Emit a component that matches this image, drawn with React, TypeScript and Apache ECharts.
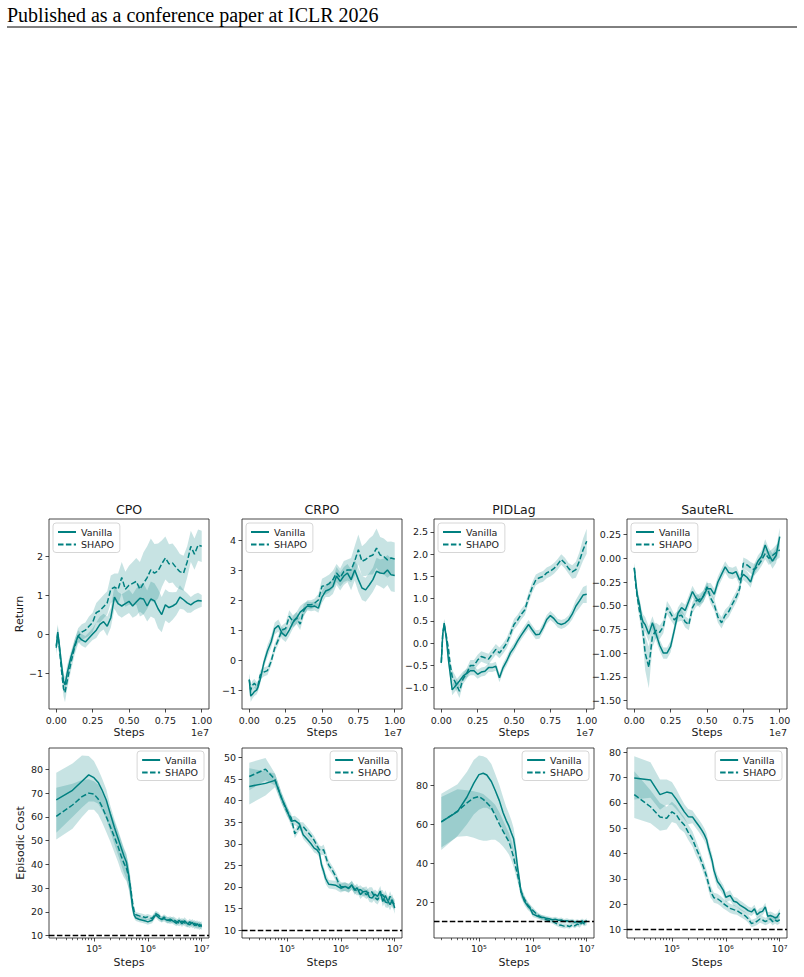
import React, { useEffect, useRef } from "react";
import * as echarts from "echarts";

const FONT = "DejaVu Sans";
const TEAL = "#008080";
const BAND = "rgba(0,128,128,0.22)";
const INK = "#1a1a1a";

// ---------- layout ----------
const GRID_LEFTS = [49, 242, 434, 627];
const GRID_W = 160;
const GRID_H = 190;
const ROW_TOPS = [519, 748];

// ---------- text ----------
const HEADER = "Published as a conference paper at ICLR 2026";
const TITLES = ["CPO", "CRPO", "PIDLag", "SauteRL"];
const SERIES_NAMES = ["Vanilla", "SHAPO"];

// ---------- axes ----------
const TOP_X_RANGE = [-5e5, 1.05e7];
const TOP_X_TICKS = [0, 2.5e6, 5e6, 7.5e6, 1e7];
const LOG_X_RANGE = [14660, 13650000];
const LOG_X_MAJOR = [1e5, 1e6, 1e7];
const LOG_X_MINOR = [2e4, 3e4, 4e4, 5e4, 6e4, 7e4, 8e4, 9e4, 2e5, 3e5, 4e5, 5e5, 6e5, 7e5, 8e5, 9e5, 2e6, 3e6, 4e6, 5e6, 6e6, 7e6, 8e6, 9e6];

const RET_Y_RANGES = [[-1.92, 2.95], [-1.63, 4.7], [-1.48, 2.79], [-1.59, 0.415]];
const RET_Y_TICKS = [
  [-1, 0, 1, 2],
  [-1, 0, 1, 2, 3, 4],
  [-1, -0.5, 0, 0.5, 1, 1.5, 2, 2.5],
  [-1.5, -1.25, -1, -0.75, -0.5, -0.25, 0, 0.25],
];
const RET_Y_DECIMALS = [0, 0, 1, 2];
const COST_Y_RANGES = [[9.0, 89], [8.15, 52.2], [1.5, 99.2], [6.7, 81.7]];
const COST_Y_TICKS = [
  [10, 20, 30, 40, 50, 60, 70, 80],
  [10, 15, 20, 25, 30, 35, 40, 45, 50],
  [20, 40, 60, 80],
  [10, 20, 30, 40, 50, 60, 70, 80],
];
const COST_LIMIT = 10;

// ---------- data: return (top row), mean and spread ----------
const TOP_STEPS = [0, 1e5, 2e5, 3.5e5, 5e5, 6e5, 7.5e5, 1e6, 1.25e6, 1.5e6, 1.75e6, 2e6, 2.25e6, 2.5e6, 2.75e6, 3e6, 3.25e6, 3.5e6, 3.75e6, 4e6, 4.25e6, 4.5e6, 4.75e6, 5e6, 5.25e6, 5.5e6, 5.75e6, 6e6, 6.25e6, 6.5e6, 6.75e6, 7e6, 7.25e6, 7.5e6, 7.75e6, 8e6, 8.25e6, 8.5e6, 8.75e6, 9e6, 9.25e6, 9.5e6, 9.75e6, 1e7];

const CPO_RET_V = [-0.35, 0.05, -0.25, -0.75, -1.2, -1.3, -1.0, -0.6, -0.3, -0.05, -0.15, -0.2, -0.1, 0.0, 0.1, 0.25, 0.32, 0.2, 0.42, 0.95, 0.78, 0.72, 0.78, 0.84, 0.72, 0.82, 0.92, 0.9, 0.72, 0.9, 0.85, 0.65, 0.5, 0.75, 0.68, 0.72, 0.78, 0.95, 0.88, 0.8, 0.75, 0.82, 0.86, 0.85];
const CPO_RET_V_SD = [0.2, 0.2, 0.2, 0.2, 0.2, 0.2, 0.2, 0.15, 0.15, 0.15, 0.15, 0.15, 0.15, 0.15, 0.2, 0.2, 0.2, 0.25, 0.25, 0.3, 0.3, 0.3, 0.3, 0.3, 0.3, 0.35, 0.35, 0.4, 0.4, 0.45, 0.45, 0.5, 0.45, 0.4, 0.4, 0.35, 0.3, 0.3, 0.25, 0.25, 0.2, 0.2, 0.2, 0.15];
const CPO_RET_S = [-0.3, 0.0, -0.3, -0.9, -1.4, -1.5, -1.2, -0.75, -0.35, -0.05, 0.05, 0.1, 0.2, 0.3, 0.55, 0.6, 0.7, 0.8, 1.15, 1.2, 1.15, 1.45, 1.15, 1.25, 1.3, 1.35, 1.15, 1.3, 1.45, 1.65, 1.56, 1.62, 1.8, 1.95, 1.8, 1.82, 1.7, 1.6, 1.56, 1.85, 2.25, 2.05, 2.28, 2.25];
const CPO_RET_S_SD = [0.2, 0.2, 0.2, 0.2, 0.2, 0.25, 0.2, 0.2, 0.2, 0.2, 0.2, 0.2, 0.25, 0.25, 0.25, 0.3, 0.3, 0.3, 0.35, 0.35, 0.4, 0.4, 0.45, 0.5, 0.55, 0.6, 0.7, 0.8, 0.8, 0.8, 0.75, 0.7, 0.6, 0.55, 0.5, 0.5, 0.5, 0.45, 0.45, 0.4, 0.4, 0.4, 0.4, 0.4];

const CRPO_RET_V = [-0.65, -1.2, -1.15, -1.05, -1.0, -0.9, -0.65, -0.1, 0.3, 0.6, 1.05, 1.15, 0.9, 0.8, 1.0, 1.25, 1.4, 1.6, 1.7, 1.8, 1.78, 1.8, 1.73, 2.1, 2.3, 2.35, 2.45, 2.8, 2.62, 2.8, 2.9, 2.68, 3.0, 2.68, 2.4, 2.34, 2.5, 2.68, 2.96, 2.9, 2.88, 3.0, 2.84, 2.82];
const CRPO_RET_V_SD = [0.2, 0.2, 0.15, 0.15, 0.15, 0.15, 0.15, 0.15, 0.2, 0.2, 0.2, 0.2, 0.2, 0.2, 0.2, 0.2, 0.2, 0.2, 0.2, 0.15, 0.15, 0.15, 0.15, 0.2, 0.2, 0.25, 0.25, 0.3, 0.3, 0.3, 0.3, 0.35, 0.35, 0.4, 0.4, 0.4, 0.4, 0.4, 0.45, 0.45, 0.5, 0.5, 0.55, 0.55];
const CRPO_RET_S = [-0.65, -1.0, -0.85, -0.77, -0.88, -0.85, -0.5, -0.4, -0.35, -0.05, 0.4, 0.68, 1.0, 1.05, 1.46, 1.29, 1.4, 1.2, 1.65, 1.84, 1.84, 1.9, 2.0, 2.46, 2.48, 2.55, 2.68, 2.9, 2.75, 2.95, 3.0, 3.0, 3.3, 3.68, 3.29, 3.35, 3.45, 3.5, 3.73, 3.5, 3.45, 3.34, 3.4, 3.37];
const CRPO_RET_S_SD = [0.2, 0.15, 0.15, 0.15, 0.15, 0.15, 0.15, 0.15, 0.15, 0.15, 0.15, 0.15, 0.15, 0.2, 0.2, 0.2, 0.2, 0.2, 0.2, 0.15, 0.15, 0.15, 0.2, 0.25, 0.3, 0.3, 0.3, 0.3, 0.3, 0.35, 0.35, 0.4, 0.5, 0.5, 0.5, 0.55, 0.6, 0.65, 0.65, 0.6, 0.6, 0.6, 0.55, 0.55];

const PID_RET_V = [-0.44, 0.2, 0.45, 0.1, -0.4, -0.65, -1.05, -0.95, -0.85, -0.74, -0.68, -0.62, -0.62, -0.7, -0.65, -0.63, -0.55, -0.55, -0.52, -0.78, -0.55, -0.4, -0.22, -0.1, 0.05, 0.18, 0.3, 0.42, 0.3, 0.19, 0.2, 0.35, 0.53, 0.62, 0.55, 0.45, 0.42, 0.45, 0.52, 0.65, 0.83, 0.95, 1.08, 1.1];
const PID_RET_V_SD = [0.1, 0.1, 0.1, 0.12, 0.12, 0.12, 0.12, 0.12, 0.12, 0.1, 0.1, 0.1, 0.1, 0.1, 0.1, 0.1, 0.1, 0.1, 0.1, 0.1, 0.1, 0.1, 0.1, 0.1, 0.1, 0.1, 0.1, 0.1, 0.1, 0.1, 0.1, 0.1, 0.1, 0.1, 0.1, 0.1, 0.1, 0.1, 0.1, 0.12, 0.14, 0.16, 0.18, 0.2];
const PID_RET_S = [-0.44, 0.2, 0.42, 0.15, -0.14, -0.45, -0.75, -0.9, -1.08, -0.8, -0.68, -0.5, -0.5, -0.38, -0.3, -0.33, -0.36, -0.25, -0.14, -0.22, -0.12, 0.0, 0.2, 0.42, 0.52, 0.65, 0.75, 1.02, 1.25, 1.42, 1.47, 1.5, 1.58, 1.62, 1.68, 1.77, 1.88, 1.8, 1.68, 1.6, 1.65, 1.85, 2.1, 2.29];
const PID_RET_S_SD = [0.1, 0.1, 0.1, 0.12, 0.12, 0.12, 0.15, 0.15, 0.15, 0.12, 0.12, 0.12, 0.12, 0.12, 0.12, 0.12, 0.12, 0.12, 0.12, 0.12, 0.12, 0.12, 0.12, 0.12, 0.12, 0.12, 0.12, 0.12, 0.12, 0.12, 0.12, 0.12, 0.12, 0.12, 0.12, 0.12, 0.12, 0.12, 0.12, 0.15, 0.18, 0.2, 0.25, 0.28];

const SAUTE_RET_V = [-0.1, -0.24, -0.38, -0.48, -0.62, -0.67, -0.7, -0.8, -0.68, -0.8, -0.92, -1.0, -1.0, -0.93, -0.76, -0.58, -0.52, -0.55, -0.45, -0.35, -0.42, -0.46, -0.4, -0.32, -0.32, -0.38, -0.25, -0.17, -0.09, -0.15, -0.16, -0.14, -0.23, -0.17, -0.2, -0.25, -0.12, -0.03, 0.02, 0.14, 0.04, -0.03, 0.03, 0.23];
const SAUTE_RET_V_SD = [0.05, 0.06, 0.06, 0.07, 0.08, 0.08, 0.08, 0.08, 0.07, 0.07, 0.06, 0.06, 0.06, 0.06, 0.06, 0.06, 0.06, 0.06, 0.06, 0.06, 0.06, 0.06, 0.06, 0.06, 0.06, 0.06, 0.06, 0.06, 0.06, 0.06, 0.06, 0.06, 0.06, 0.06, 0.06, 0.06, 0.06, 0.06, 0.06, 0.06, 0.07, 0.08, 0.08, 0.09];
const SAUTE_RET_S = [-0.1, -0.28, -0.4, -0.55, -0.68, -0.78, -1.0, -1.15, -0.82, -0.76, -0.78, -0.72, -0.52, -0.58, -0.65, -0.61, -0.6, -0.67, -0.7, -0.52, -0.45, -0.43, -0.4, -0.3, -0.42, -0.49, -0.62, -0.68, -0.6, -0.56, -0.48, -0.41, -0.32, -0.05, -0.07, -0.1, -0.12, -0.08, -0.02, 0.05, 0.0, 0.03, 0.06, 0.09];
const SAUTE_RET_S_SD = [0.05, 0.06, 0.07, 0.08, 0.1, 0.12, 0.18, 0.22, 0.12, 0.08, 0.07, 0.07, 0.07, 0.07, 0.06, 0.06, 0.06, 0.06, 0.06, 0.06, 0.06, 0.06, 0.06, 0.06, 0.06, 0.06, 0.06, 0.06, 0.06, 0.06, 0.06, 0.06, 0.06, 0.06, 0.06, 0.06, 0.06, 0.06, 0.06, 0.06, 0.07, 0.07, 0.08, 0.08];

// ---------- data: episodic cost (bottom row) ----------
const BOTTOM_STEPS = [2e4, 4e4, 6e4, 8e4, 1e5, 1.2e5, 1.4e5, 1.7e5, 2e5, 2.4e5, 2.8e5, 3.2e5, 3.6e5, 4e5, 4.4e5, 4.8e5, 5.2e5, 5.6e5, 6e5, 7e5, 8e5, 9e5, 1e6, 1.2e6, 1.4e6, 1.6e6, 1.8e6, 2e6, 2.3e6, 2.6e6, 3e6, 3.4e6, 3.8e6, 4.3e6, 4.8e6, 5.4e6, 6e6, 6.7e6, 7.4e6, 8.2e6, 9e6, 1e7];

// CPO: mean with explicit lower / upper band edges
const CPO_COST_V = [67.2, 71.2, 75, 77.7, 76.5, 74.5, 71.5, 67, 61.5, 55.5, 51, 47, 43.5, 41, 35.7, 29, 22, 18.5, 17.4, 16.8, 16.5, 16.2, 15.8, 16.5, 18.8, 17.5, 16.8, 17.2, 16.4, 16.9, 16.0, 15.2, 16.5, 15.0, 16.3, 15.1, 14.6, 15.6, 14.2, 15.0, 13.9, 14.6];
const CPO_COST_V_LO = [53.3, 60, 64, 66.5, 66.5, 65.5, 63, 59, 54, 48.5, 44, 40, 36.5, 34, 30, 24.5, 19.5, 17.2, 16.2, 15.6, 15.3, 15.0, 14.6, 15.2, 17.5, 16.2, 15.5, 15.9, 15.1, 15.6, 14.7, 13.9, 15.2, 13.6, 14.9, 13.7, 13.2, 14.2, 12.7, 13.5, 12.4, 13.1];
const CPO_COST_V_HI = [78.6, 82.5, 85.8, 85.6, 83.5, 80, 76.5, 71.5, 65, 59, 54.5, 50.5, 47, 44.5, 39.5, 32, 24, 19.8, 18.6, 18.0, 17.7, 17.4, 17.0, 17.8, 20.1, 18.8, 18.1, 18.5, 17.7, 18.2, 17.3, 16.5, 17.8, 16.4, 17.7, 16.5, 16.0, 17.0, 15.7, 16.5, 15.4, 16.1];
const CPO_COST_S = [60.2, 65, 68.5, 70, 69.6, 67.5, 64.5, 60, 56, 51.5, 47.5, 43.5, 40.5, 38.5, 35, 30, 24, 20, 18.8, 18.3, 18.0, 17.6, 17.9, 17.2, 19.3, 18.5, 16.9, 17.8, 16.6, 16.2, 16.8, 15.9, 15.3, 16.1, 15.4, 14.7, 15.8, 14.5, 15.2, 14.0, 14.8, 13.8];
const CPO_COST_S_LO = [50.5, 55, 60, 63, 63, 61, 58, 53.5, 49.7, 45, 41, 37, 34.5, 33, 30, 26, 21, 18.5, 17.6, 17.1, 16.8, 16.4, 16.7, 16.0, 18.1, 17.3, 15.7, 16.6, 15.3, 14.9, 15.5, 14.6, 14.0, 14.8, 14.1, 13.4, 14.5, 13.1, 13.8, 12.6, 13.4, 12.4];
const CPO_COST_S_HI = [72.3, 74, 75.5, 75.8, 75, 73.5, 70.5, 66.5, 62.5, 58, 54, 50, 46.5, 44, 40, 34, 27, 21.5, 20.0, 19.5, 19.2, 18.8, 19.1, 18.4, 20.5, 19.7, 18.1, 19.0, 17.9, 17.5, 18.1, 17.2, 16.6, 17.4, 16.7, 16.0, 17.1, 15.9, 16.6, 15.4, 16.2, 15.2];

// CRPO: mean and spread
const CRPO_COST_V = [43.3, 44.0, 44.7, 40.5, 37.8, 35.2, 35.4, 34.6, 32.1, 31, 30.0, 29.0, 28.6, 27.8, 25, 23.6, 22, 21.2, 20.6, 20.5, 20.4, 20.0, 19.7, 20.1, 19.6, 20.5, 19.2, 19.8, 18.2, 18.9, 19.0, 17.6, 17.4, 18.3, 17.8, 19.0, 16.6, 18.0, 16.8, 15.9, 17.0, 15.1];
const CRPO_COST_V_SD = [4.2, 2.8, 1.6, 1.3, 1.2, 1.1, 1.1, 1.0, 1.0, 1.0, 1.0, 1.0, 1.0, 1.0, 1.2, 1.2, 1.2, 1.1, 1.0, 1.0, 1.0, 1.0, 1.0, 1.0, 1.0, 1.0, 1.0, 1.0, 1.0, 1.0, 1.1, 1.1, 1.1, 1.1, 1.1, 1.2, 1.2, 1.2, 1.2, 1.3, 1.3, 1.3];
const CRPO_COST_S = [45.6, 47.3, 44.9, 40.5, 37.5, 36, 32.3, 34, 34, 32.8, 31.8, 30.8, 29.6, 28.6, 28.4, 28.6, 27.2, 25.9, 25, 23.8, 22.5, 21.0, 20.1, 20.0, 19.8, 20.3, 19.5, 19.0, 19.4, 18.8, 18.2, 18.9, 18.8, 17.5, 17.0, 18.1, 18.2, 16.5, 16.3, 17.8, 16.4, 15.9];
const CRPO_COST_S_SD = [3.2, 2.6, 1.4, 1.2, 1.1, 1.0, 1.0, 1.0, 1.0, 1.0, 1.0, 1.0, 1.0, 1.0, 1.0, 1.2, 1.3, 1.2, 1.1, 1.0, 1.0, 1.0, 1.0, 1.0, 1.0, 1.0, 1.0, 1.0, 1.0, 1.0, 1.0, 1.0, 1.1, 1.1, 1.1, 1.1, 1.1, 1.2, 1.2, 1.2, 1.2, 1.2];

// PIDLag: mean with explicit lower / upper band edges
const PID_COST_V = [61.2, 66.5, 74, 81, 85.5, 86.2, 85.3, 82, 77.5, 72, 66, 62, 59, 55.5, 52.5, 46, 38, 32, 25.5, 20.3, 18, 16.5, 13.8, 12.8, 12.2, 12.0, 11.6, 11.4, 10.9, 11.2, 10.6, 10.8, 10.1, 10.4, 9.9, 10.2, 9.6, 10.0, 9.4, 10.3, 9.5, 10.5];
const PID_COST_V_LO = [46.7, 54, 60, 65, 67.5, 68.5, 68.5, 67, 65, 61, 57, 54, 51.5, 48.5, 46, 40, 33, 28, 22.5, 18.3, 16, 14.8, 12.3, 11.5, 10.9, 10.8, 10.4, 10.2, 9.7, 10.0, 9.4, 9.6, 8.9, 9.2, 8.7, 9.0, 8.4, 8.8, 8.2, 9.1, 8.3, 9.3];
const PID_COST_V_HI = [75.7, 80.5, 87, 93, 95.3, 95, 94, 91, 86, 80, 74, 69, 65.5, 62, 58, 51, 42, 35.5, 28.5, 22.5, 20, 18.2, 15.3, 14.1, 13.5, 13.2, 12.8, 12.6, 12.1, 12.4, 11.8, 12.0, 11.3, 11.6, 11.1, 11.4, 10.8, 11.2, 10.6, 11.5, 10.7, 11.7];
const PID_COST_S = [61.2, 66.7, 71, 73.5, 74.3, 72.8, 71, 68.5, 64.5, 60, 56.4, 53.5, 51, 47, 43, 38, 34, 30, 25.5, 21.5, 18.6, 17, 15.8, 13.5, 12.3, 11.5, 10.9, 10.5, 10.2, 9.3, 8.3, 8.0, 7.6, 7.8, 7.4, 8.3, 7.7, 8.6, 8.0, 9.5, 8.8, 9.2];
const PID_COST_S_LO = [48, 53.5, 54, 53, 52, 51.5, 51.5, 52, 52, 50.5, 48.5, 46.5, 44.5, 41.5, 38, 34, 30.5, 27, 23, 19.5, 16.8, 15.4, 14.3, 12.1, 11.0, 10.3, 9.7, 9.3, 9.0, 8.1, 7.1, 6.8, 6.4, 6.6, 6.2, 7.1, 6.5, 7.4, 6.8, 8.3, 7.6, 8.0];
const PID_COST_S_HI = [74, 78, 77.5, 77, 76.3, 75.5, 74, 72, 70, 66, 62, 58.5, 55.5, 51.5, 47, 41.5, 37, 32.5, 28, 23.5, 20.4, 18.6, 17.3, 14.9, 13.6, 12.7, 12.1, 11.7, 11.4, 10.5, 9.5, 9.2, 8.8, 9.0, 8.6, 9.5, 8.9, 9.8, 9.2, 10.7, 10.0, 10.4];

// SauteRL: mean and spread
const SAUTE_COST_V = [69.9, 69.1, 63.3, 64.3, 63.8, 61.5, 59.3, 56.5, 54.6, 54.5, 52.5, 50.8, 49.2, 47.5, 45.5, 42, 39.5, 37, 33.5, 29, 27.3, 25.5, 22.8, 23.5, 21.2, 20.8, 19.8, 19.2, 18.4, 17.5, 17.0, 18.2, 15.9, 16.9, 17.2, 19.0, 15.3, 15.6, 15.2, 14.6, 15.0, 16.6];
const SAUTE_COST_V_SD = [8.5, 7, 6, 5, 4.5, 4, 3.5, 3, 3, 2.5, 2.5, 2.5, 2.5, 2.5, 2.5, 2.5, 2.5, 2.5, 2.5, 2.5, 2, 2, 2, 2, 1.8, 1.8, 1.8, 1.8, 1.6, 1.6, 1.6, 1.6, 1.6, 1.6, 1.6, 1.6, 1.6, 1.6, 1.6, 1.6, 1.6, 1.6];
const SAUTE_COST_S = [63.3, 58.5, 54.5, 54, 56.5, 55.4, 53.2, 51.3, 48.5, 45.8, 42.2, 39.4, 36.5, 33.7, 31, 27.8, 25.1, 23.8, 22.6, 22.2, 21.3, 20.3, 19.6, 18.4, 17.9, 17.5, 16.8, 16.2, 15.4, 14.3, 12.4, 12.8, 13.3, 14.2, 13.8, 13.2, 13.6, 14.2, 13.1, 13.9, 13.3, 13.9];
const SAUTE_COST_S_SD = [9.2, 6.5, 5.5, 4.5, 4, 3.5, 3.5, 3, 3, 3, 3, 2.5, 2.5, 2.5, 2.5, 2.5, 2.5, 2, 2, 2, 2, 2, 1.8, 1.8, 1.8, 1.6, 1.6, 1.6, 1.6, 1.6, 1.5, 1.5, 1.5, 1.5, 1.5, 1.5, 1.5, 1.5, 1.5, 1.5, 1.5, 1.5];

type Curve = { mean: number[]; lo: number[]; hi: number[] };
const fromSpread = (mean: number[], sd: number[]): Curve => ({
  mean,
  lo: mean.map((m, i) => m - sd[i]),
  hi: mean.map((m, i) => m + sd[i]),
});

const RETURN_CURVES: Curve[][] = [
  [fromSpread(CPO_RET_V, CPO_RET_V_SD), fromSpread(CPO_RET_S, CPO_RET_S_SD)],
  [fromSpread(CRPO_RET_V, CRPO_RET_V_SD), fromSpread(CRPO_RET_S, CRPO_RET_S_SD)],
  [fromSpread(PID_RET_V, PID_RET_V_SD), fromSpread(PID_RET_S, PID_RET_S_SD)],
  [fromSpread(SAUTE_RET_V, SAUTE_RET_V_SD), fromSpread(SAUTE_RET_S, SAUTE_RET_S_SD)],
];
const COST_CURVES: Curve[][] = [
  [{ mean: CPO_COST_V, lo: CPO_COST_V_LO, hi: CPO_COST_V_HI }, { mean: CPO_COST_S, lo: CPO_COST_S_LO, hi: CPO_COST_S_HI }],
  [fromSpread(CRPO_COST_V, CRPO_COST_V_SD), fromSpread(CRPO_COST_S, CRPO_COST_S_SD)],
  [{ mean: PID_COST_V, lo: PID_COST_V_LO, hi: PID_COST_V_HI }, { mean: PID_COST_S, lo: PID_COST_S_LO, hi: PID_COST_S_HI }],
  [fromSpread(SAUTE_COST_V, SAUTE_COST_V_SD), fromSpread(SAUTE_COST_S, SAUTE_COST_S_SD)],
];

const DASH = [5.5, 2.4];
const SUP: Record<number, string> = { 4: "\u2074", 5: "\u2075", 6: "\u2076", 7: "\u2077" };

function fmtSigned(v: number, d: number) {
  const s = Math.abs(v).toFixed(d);
  return v < -1e-9 ? "\u2212" + s : s;
}

function bandSeries(idx: number, xs: number[], c: Curve) {
  return {
    type: "custom",
    xAxisIndex: idx,
    yAxisIndex: idx,
    silent: true,
    z: 1,
    data: [[xs[0], c.mean[0]]],
    renderItem: (_p: any, api: any) => {
      const pts: number[][] = [];
      for (let i = 0; i < xs.length; i++) pts.push(api.coord([xs[i], c.hi[i]]));
      for (let i = xs.length - 1; i >= 0; i--) pts.push(api.coord([xs[i], c.lo[i]]));
      return { type: "polygon", shape: { points: pts }, style: { fill: BAND } };
    },
  };
}

function lineSeries(name: string, idx: number, xs: number[], ys: number[], dashed: boolean, limit?: number) {
  const s: any = {
    type: "line",
    name,
    xAxisIndex: idx,
    yAxisIndex: idx,
    data: xs.map((x, i) => [x, ys[i]]),
    symbol: "none",
    showSymbol: false,
    silent: true,
    z: 3,
    itemStyle: { color: TEAL },
    lineStyle: { color: TEAL, width: 1.5, type: dashed ? DASH : "solid" },
  };
  if (limit !== undefined) {
    s.markLine = {
      silent: true,
      symbol: ["none", "none"],
      label: { show: false },
      lineStyle: { color: "#000", width: 1.3, type: DASH },
      data: [{ yAxis: limit }],
      animation: false,
    };
  }
  return s;
}

const tickLabelStyle = { fontFamily: FONT, fontSize: 9.5, color: INK };
const nameStyle = { fontFamily: FONT, fontSize: 11, color: INK };
const tickLine = { color: INK, width: 0.8 };
const noLine = { show: false, onZero: false };

function buildOption() {
  const grid: any[] = [];
  const xAxis: any[] = [];
  const yAxis: any[] = [];
  const series: any[] = [];
  const legend: any[] = [];
  const graphic: any[] = [];

  graphic.push({
    type: "text",
    left: 7,
    top: 5,
    style: { text: HEADER, fontFamily: "Liberation Serif", fontSize: 20, fill: "#000" },
  });
  graphic.push({
    type: "line",
    shape: { x1: 7, y1: 27, x2: 797, y2: 27 },
    style: { stroke: "#000", lineWidth: 1 },
  });

  const legendBase = {
    data: SERIES_NAMES,
    orient: "vertical",
    itemWidth: 18,
    itemHeight: 10,
    itemGap: 2.5,
    padding: [4, 6, 3, 4],
    borderColor: "#cccccc",
    borderWidth: 0.8,
    borderRadius: 3,
    backgroundColor: "rgba(255,255,255,0.8)",
    selectedMode: false,
    itemStyle: { opacity: 0 },
    textStyle: { fontFamily: FONT, fontSize: 9.5, color: INK },
  };

  for (let r = 0; r < 2; r++) {
    for (let k = 0; k < 4; k++) {
      const g = r * 4 + k;
      const left = GRID_LEFTS[k];
      const top = ROW_TOPS[r];
      grid.push({
        left,
        top,
        width: GRID_W,
        height: GRID_H,
        show: true,
        borderColor: INK,
        borderWidth: 0.8,
        backgroundColor: "transparent",
      });

      if (r === 0) {
        xAxis.push({
          type: "value",
          gridIndex: g,
          position: "bottom",
          min: TOP_X_RANGE[0],
          max: TOP_X_RANGE[1],
          axisLine: noLine,
          splitLine: { show: false },
          axisTick: { show: true, length: 3.5, lineStyle: tickLine, customValues: TOP_X_TICKS },
          axisLabel: {
            ...tickLabelStyle,
            margin: 6,
            customValues: TOP_X_TICKS,
            formatter: (v: number) => (v / 1e7).toFixed(2),
          },
          name: "Steps",
          nameLocation: "middle",
          nameGap: 18,
          nameTextStyle: nameStyle,
        });
        const [ymin, ymax] = RET_Y_RANGES[k];
        const ticks = RET_Y_TICKS[k];
        const dec = RET_Y_DECIMALS[k];
        yAxis.push({
          type: "value",
          gridIndex: g,
          position: "left",
          min: ymin,
          max: ymax,
          axisLine: noLine,
          splitLine: { show: false },
          axisTick: { show: true, length: 3.5, lineStyle: tickLine, customValues: ticks },
          axisLabel: { ...tickLabelStyle, margin: 6, customValues: ticks, formatter: (v: number) => fmtSigned(v, dec) },
          name: k === 0 ? "Return" : "",
          nameLocation: "middle",
          nameGap: 23,
          nameTextStyle: nameStyle,
        });
        const [cv, cs] = RETURN_CURVES[k];
        series.push(bandSeries(g, TOP_STEPS, cv));
        series.push(bandSeries(g, TOP_STEPS, cs));
        series.push(lineSeries(SERIES_NAMES[0], g, TOP_STEPS, cv.mean, false));
        series.push(lineSeries(SERIES_NAMES[1], g, TOP_STEPS, cs.mean, true));
        legend.push({ ...legendBase, left: left + 4, top: top + 4 });
        graphic.push({
          type: "text",
          x: left + GRID_W / 2,
          y: top - 10,
          style: { text: TITLES[k], fontFamily: FONT, fontSize: 12.5, fill: INK, align: "center", verticalAlign: "middle" },
        });
        graphic.push({
          type: "text",
          x: left + GRID_W,
          y: top + GRID_H + 23,
          style: { text: "1e7", fontFamily: FONT, fontSize: 9.5, fill: INK, align: "right", verticalAlign: "middle" },
        });
      } else {
        xAxis.push({
          type: "log",
          logBase: 10,
          gridIndex: g,
          position: "bottom",
          min: LOG_X_RANGE[0],
          max: LOG_X_RANGE[1],
          axisLine: noLine,
          splitLine: { show: false },
          minorTick: { show: false },
          axisTick: { show: true, length: 3.5, lineStyle: tickLine, customValues: LOG_X_MAJOR },
          axisLabel: {
            ...tickLabelStyle,
            margin: 5,
            customValues: LOG_X_MAJOR,
            formatter: (v: number) => "10" + SUP[Math.round(Math.log10(v))],
          },
          name: "Steps",
          nameLocation: "middle",
          nameGap: 19,
          nameTextStyle: nameStyle,
        });
        const [ymin, ymax] = COST_Y_RANGES[k];
        const ticks = COST_Y_TICKS[k];
        yAxis.push({
          type: "value",
          gridIndex: g,
          position: "left",
          min: ymin,
          max: ymax,
          axisLine: noLine,
          splitLine: { show: false },
          axisTick: { show: true, length: 3.5, lineStyle: tickLine, customValues: ticks },
          axisLabel: { ...tickLabelStyle, margin: 6, customValues: ticks, formatter: (v: number) => fmtSigned(v, 0) },
          name: k === 0 ? "Episodic Cost" : "",
          nameLocation: "middle",
          nameGap: 23,
          nameTextStyle: nameStyle,
        });
        const [cv, cs] = COST_CURVES[k];
        series.push(bandSeries(g, BOTTOM_STEPS, cv));
        series.push(bandSeries(g, BOTTOM_STEPS, cs));
        series.push(lineSeries(SERIES_NAMES[0], g, BOTTOM_STEPS, cv.mean, false, COST_LIMIT));
        series.push(lineSeries(SERIES_NAMES[1], g, BOTTOM_STEPS, cs.mean, true));
        legend.push({ ...legendBase, right: 804 - (left + GRID_W) + 5, top: top + 3 });
      }
    }
  }

  // minor ticks for the log axes (indices 8..11): a second axis placed on the
  // grid's top side, shifted down onto the bottom edge, ticks pointing down.
  for (let k = 0; k < 4; k++) {
    xAxis.push({
      type: "log",
      logBase: 10,
      gridIndex: 4 + k,
      position: "top",
      offset: -GRID_H,
      min: LOG_X_RANGE[0],
      max: LOG_X_RANGE[1],
      axisLine: noLine,
      splitLine: { show: false },
      axisLabel: { show: false },
      axisTick: { show: true, inside: true, length: 2.2, lineStyle: { color: INK, width: 0.7 }, customValues: LOG_X_MINOR },
    });
  }

  return {
    animation: false,
    backgroundColor: "#ffffff",
    grid,
    xAxis,
    yAxis,
    series,
    legend,
    graphic,
  };
}

export default function App() {
  const ref = useRef<HTMLDivElement>(null);
  useEffect(() => {
    if (!ref.current) return;
    const chart = echarts.init(ref.current, undefined, { renderer: "svg" });
    chart.setOption(buildOption() as any);
    return () => chart.dispose();
  }, []);
  return (
    <div
      ref={ref}
      style={{ position: "absolute", left: 0, top: 0, width: 804, height: 977 }}
    />
  );
}
